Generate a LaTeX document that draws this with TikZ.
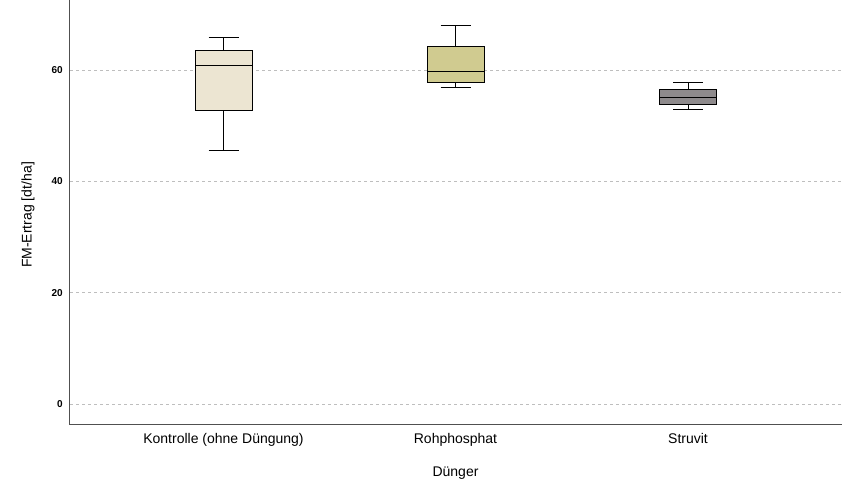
\documentclass[tikz,border=0pt]{standalone}
\usepackage{fontspec}
\setmainfont{Liberation Sans}
\usetikzlibrary{positioning}
\definecolor{boxkontrolle}{RGB}{236,229,210}
\definecolor{boxrohphosphat}{RGB}{208,203,144}
\definecolor{boxstruvit}{RGB}{142,138,140}
\definecolor{gridgray}{RGB}{190,190,190}
\definecolor{axisgray}{RGB}{80,80,80}
\tikzset{
  gridline/.style={gridgray, dash pattern=on 3pt off 3pt, line width=0.8pt},
  ticklabel/.style={font=\fontsize{10}{12}\selectfont\bfseries, anchor=east, inner sep=0pt},
  catlabel/.style={font=\fontsize{14}{16}\selectfont, inner sep=0pt},
  boxbody/.style={draw=black, line width=0.7pt},
  whisker/.style={black, line width=0.7pt}
}
\newcommand{\yv}[1]{404-#1*5.567}
\newcommand{\drawbox}[8]{%
  % #1 centre x, #2 lower whisker, #3 q1, #4 median, #5 q3, #6 upper whisker, #7 colour, #8 name
  \draw[whisker] (#1,{\yv{#2}}) -- (#1,{\yv{#3}});
  \draw[whisker] (#1,{\yv{#5}}) -- (#1,{\yv{#6}});
  \draw[whisker] (#1-15,{\yv{#2}}) -- (#1+15,{\yv{#2}});
  \draw[whisker] (#1-15,{\yv{#6}}) -- (#1+15,{\yv{#6}});
  \filldraw[boxbody, fill=#7] (#1-28.5,{\yv{#3}}) rectangle (#1+28.5,{\yv{#5}});
  \draw[whisker] (#1-28.5,{\yv{#4}}) -- (#1+28.5,{\yv{#4}});
  \coordinate (#8) at (#1,424);
}
\begin{document}
\begin{tikzpicture}[x=1pt, y=-1pt]
\useasboundingbox (0,0) rectangle (853,497);

% Grid lines and tick labels
\foreach \v in {0,20,40,60} {
  \draw[gridline] (70,{\yv{\v}}) -- (842,{\yv{\v}});
  \node[ticklabel] (tick\v) at (63,{\yv{\v}}) {\v};
}

% Boxes
\drawbox{223.5}{45.5}{52.8}{60.9}{63.5}{65.8}{boxkontrolle}{kontrolle}
\drawbox{455.5}{56.8}{57.8}{59.7}{64.3}{68.1}{boxrohphosphat}{rohphosphat}
\drawbox{688}{52.9}{53.8}{55.0}{56.6}{57.8}{boxstruvit}{struvit}

% Axes
\draw[axisgray, line width=0.8pt] (69,0) -- (69,424) -- (842,424);

% Category labels
\node[catlabel, below=9pt of kontrolle] (labkontrolle) {Kontrolle (ohne Düngung)};
\node[catlabel, below=9pt of rohphosphat] (labrohphosphat) {Rohphosphat};
\node[catlabel, below=9pt of struvit] (labstruvit) {Struvit};

% Axis titles
\node[catlabel] (xtitle) at (455.5,473) {Dünger};
\node[catlabel, rotate=90] (ytitle) at (28,215) {FM-Ertrag [dt/ha]};
\end{tikzpicture}
\end{document}
